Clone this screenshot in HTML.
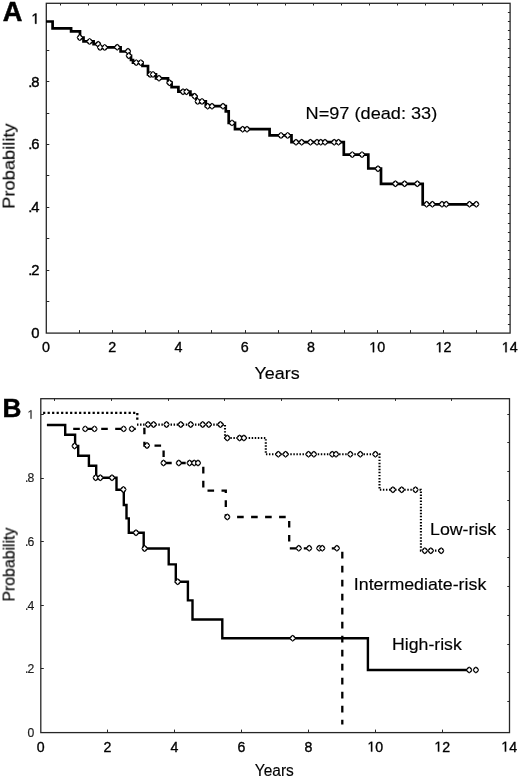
<!DOCTYPE html>
<html><head><meta charset="utf-8"><style>
html,body{margin:0;padding:0;background:#fff;}
body{width:520px;height:781px;overflow:hidden;}
svg{display:block;}
text{font-family:"Liberation Sans", sans-serif;will-change:transform;stroke:#000;stroke-width:0.15px;}
</style></head><body>
<svg width="520" height="781" viewBox="0 0 520 781">
<defs>
<g id="mk"><path d="M0 -3.45 Q2.45 -2.6 3.15 0 Q2.45 2.6 0 3.45 Q-2.45 2.6 -3.15 0 Q-2.45 -2.6 0 -3.45Z" fill="#000"/><path d="M0 -2.55 Q0.7 -0.7 2.35 0 Q0.7 0.7 0 2.55 Q-0.7 0.7 -2.35 0 Q-0.7 -0.7 0 -2.55Z" fill="#fff"/></g>
<g id="mkb"><path d="M0 -3.45 Q2.45 -2.6 3.15 0 Q2.45 2.6 0 3.45 Q-2.45 2.6 -3.15 0 Q-2.45 -2.6 0 -3.45Z" fill="#000"/><path d="M0 -2.55 Q0.7 -0.7 2.35 0 Q0.7 0.7 0 2.55 Q-0.7 0.7 -2.35 0 Q-0.7 -0.7 0 -2.55Z" fill="#fff"/></g>
</defs>
<rect width="520" height="781" fill="#fff"/>
<rect x="46.3" y="3.3" width="463.8" height="329.8" fill="none" stroke="#262626" stroke-width="1.3"/>
<path d="M79.5 333.1v-3 M112.5 333.1v-3 M145.5 333.1v-3 M178.5 333.1v-3 M211.5 333.1v-3 M245.5 333.1v-3 M278.5 333.1v-3 M311.5 333.1v-3 M344.5 333.1v-3 M377.5 333.1v-3 M410.5 333.1v-3 M443.5 333.1v-3 M476.5 333.1v-3 M46.3 301.5h3 M46.3 270.5h3 M46.3 238.5h3 M46.3 207.5h3 M46.3 175.5h3 M46.3 144.5h3 M46.3 113.5h3 M46.3 81.5h3 M46.3 50.5h3 M60.5 3.3v2.2 M88.5 3.3v2.2 M116.5 3.3v2.2 M144.5 3.3v2.2 M172.5 3.3v2.2 M201.5 3.3v2.2 M229.5 3.3v2.2 M257.5 3.3v2.2 M285.5 3.3v2.2 M313.5 3.3v2.2 M341.5 3.3v2.2 M369.5 3.3v2.2 M397.5 3.3v2.2 M425.5 3.3v2.2 M453.5 3.3v2.2 M482.5 3.3v2.2 M510.1 12.5h-2.2 M510.1 21.5h-2.2 M510.1 30.5h-2.2 M510.1 39.5h-2.2 M510.1 48.5h-2.2 M510.1 57.5h-2.2 M510.1 67.5h-2.2 M510.1 76.5h-2.2 M510.1 85.5h-2.2 M510.1 94.5h-2.2 M510.1 103.5h-2.2 M510.1 112.5h-2.2 M510.1 122.5h-2.2 M510.1 131.5h-2.2 M510.1 140.5h-2.2 M510.1 149.5h-2.2 M510.1 158.5h-2.2 M510.1 168.5h-2.2 M510.1 177.5h-2.2 M510.1 186.5h-2.2 M510.1 195.5h-2.2 M510.1 204.5h-2.2 M510.1 213.5h-2.2 M510.1 223.5h-2.2 M510.1 232.5h-2.2 M510.1 241.5h-2.2 M510.1 250.5h-2.2 M510.1 259.5h-2.2 M510.1 269.5h-2.2 M510.1 278.5h-2.2 M510.1 287.5h-2.2 M510.1 296.5h-2.2 M510.1 305.5h-2.2 M510.1 314.5h-2.2 M510.1 324.5h-2.2" stroke="#262626" stroke-width="1" fill="none"/>
<path d="M46 21.5 H52.6 V28.4 H71.1 V31.3 H80 V37.6 H83.5 V41.4 H93.6 V44.2 H99.5 V47.4 H120.6 V51.5 H129 V55.8 H131 V60 H133 V62.6 H142.5 V66 H148 V74.4 H156 V78.3 H168 V82.6 H171.6 V87.1 H178.4 V91.6 H190.4 V94.8 H194 V96.5 H196.5 V101.4 H205.8 V106.2 H225.8 V111.3 H228.7 V122.9 H235 V129.2 H269.6 V135.4 H291.5 V142.2 H343.8 V154.6 H368.3 V168.5 H381 V183.8 H422.7 V204.3 H476" stroke="#000" stroke-width="2.7" fill="none" stroke-linejoin="miter" stroke-linecap="butt"/>
<use href="#mk" x="79.8" y="37.6"/>
<use href="#mk" x="89.6" y="41.4"/>
<use href="#mk" x="98.2" y="44.2"/>
<use href="#mk" x="100.1" y="47.4"/>
<use href="#mk" x="104.7" y="47.4"/>
<use href="#mk" x="117.2" y="47.3"/>
<use href="#mk" x="128" y="51.3"/>
<use href="#mk" x="128.8" y="55.8"/>
<use href="#mk" x="136.2" y="62.6"/>
<use href="#mk" x="140.8" y="62.6"/>
<use href="#mk" x="150.2" y="74.4"/>
<use href="#mk" x="153" y="74.4"/>
<use href="#mk" x="159" y="78.3"/>
<use href="#mk" x="169.5" y="82.7"/>
<use href="#mk" x="183" y="91.7"/>
<use href="#mk" x="186.5" y="91.7"/>
<use href="#mk" x="194.6" y="96.3"/>
<use href="#mk" x="197.7" y="101.4"/>
<use href="#mk" x="202" y="101.4"/>
<use href="#mk" x="207.7" y="106.2"/>
<use href="#mk" x="212" y="106.2"/>
<use href="#mk" x="223" y="106.2"/>
<use href="#mk" x="232" y="122.9"/>
<use href="#mk" x="242.7" y="129.2"/>
<use href="#mk" x="247" y="129.2"/>
<use href="#mk" x="281" y="135.4"/>
<use href="#mk" x="287.7" y="135.4"/>
<use href="#mk" x="296" y="142.2"/>
<use href="#mk" x="301.7" y="142.2"/>
<use href="#mk" x="310.4" y="142.2"/>
<use href="#mk" x="317" y="142.2"/>
<use href="#mk" x="320.8" y="142.2"/>
<use href="#mk" x="325" y="142.2"/>
<use href="#mk" x="334.2" y="142.2"/>
<use href="#mk" x="338.5" y="142.2"/>
<use href="#mk" x="352.3" y="154.6"/>
<use href="#mk" x="362" y="154.6"/>
<use href="#mk" x="378" y="168.8"/>
<use href="#mk" x="395.4" y="183.8"/>
<use href="#mk" x="404.6" y="183.8"/>
<use href="#mk" x="417.3" y="183.8"/>
<use href="#mk" x="426.6" y="204.3"/>
<use href="#mk" x="432.4" y="204.3"/>
<use href="#mk" x="442" y="204.3"/>
<use href="#mk" x="446.2" y="204.3"/>
<use href="#mk" x="469.5" y="204.3"/>
<use href="#mk" x="476.3" y="204.3"/>
<text x="2.8" y="20.8" font-size="27.2" text-anchor="start" font-weight="bold" style="stroke-width:0.5px">A</text>
<g class="m"><path d="M515 0L515 1237L197 1010L197 1180L530 1409L696 1409L696 0Z" transform="translate(31.37 23.7) scale(0.007227 -0.007227)" fill="#000" stroke="#000" stroke-width="0.4" vector-effect="non-scaling-stroke"/></g>
<g class="m"><text x="0" y="0" transform="translate(28.26 86.56) scale(1.0 1)" font-size="14.8" style="stroke-width:0.4px">.</text><text x="0" y="0" transform="translate(31.37 86.56) scale(1.0 1)" font-size="14.8" style="stroke-width:0.4px">8</text></g>
<g class="m"><text x="0" y="0" transform="translate(28.26 149.42) scale(1.0 1)" font-size="14.8" style="stroke-width:0.4px">.</text><text x="0" y="0" transform="translate(31.37 149.42) scale(1.0 1)" font-size="14.8" style="stroke-width:0.4px">6</text></g>
<g class="m"><text x="0" y="0" transform="translate(28.26 212.28) scale(1.0 1)" font-size="14.8" style="stroke-width:0.4px">.</text><text x="0" y="0" transform="translate(31.37 212.28) scale(1.0 1)" font-size="14.8" style="stroke-width:0.4px">4</text></g>
<g class="m"><text x="0" y="0" transform="translate(28.26 275.14) scale(1.0 1)" font-size="14.8" style="stroke-width:0.4px">.</text><text x="0" y="0" transform="translate(31.37 275.14) scale(1.0 1)" font-size="14.8" style="stroke-width:0.4px">2</text></g>
<g class="m"><text x="0" y="0" transform="translate(31.37 338.0) scale(1.0 1)" font-size="14.8" style="stroke-width:0.4px">0</text></g>
<g class="m"><text x="0" y="0" transform="translate(41.92 352.2) scale(1.0 1)" font-size="14.3" style="stroke-width:0.35px">0</text></g>
<g class="m"><text x="0" y="0" transform="translate(108.18 352.2) scale(1.0 1)" font-size="14.3" style="stroke-width:0.35px">2</text></g>
<g class="m"><text x="0" y="0" transform="translate(174.44 352.2) scale(1.0 1)" font-size="14.3" style="stroke-width:0.35px">4</text></g>
<g class="m"><text x="0" y="0" transform="translate(240.70 352.2) scale(1.0 1)" font-size="14.3" style="stroke-width:0.35px">6</text></g>
<g class="m"><text x="0" y="0" transform="translate(306.96 352.2) scale(1.0 1)" font-size="14.3" style="stroke-width:0.35px">8</text></g>
<g class="m"><path d="M515 0L515 1237L197 1010L197 1180L530 1409L696 1409L696 0Z" transform="translate(369.25 352.2) scale(0.006982 -0.006982)" fill="#000" stroke="#000" stroke-width="0.35" vector-effect="non-scaling-stroke"/><text x="0" y="0" transform="translate(377.20 352.2) scale(1.0 1)" font-size="14.3" style="stroke-width:0.35px">0</text></g>
<g class="m"><path d="M515 0L515 1237L197 1010L197 1180L530 1409L696 1409L696 0Z" transform="translate(435.51 352.2) scale(0.006982 -0.006982)" fill="#000" stroke="#000" stroke-width="0.35" vector-effect="non-scaling-stroke"/><text x="0" y="0" transform="translate(443.46 352.2) scale(1.0 1)" font-size="14.3" style="stroke-width:0.35px">2</text></g>
<g class="m"><path d="M515 0L515 1237L197 1010L197 1180L530 1409L696 1409L696 0Z" transform="translate(501.77 352.2) scale(0.006982 -0.006982)" fill="#000" stroke="#000" stroke-width="0.35" vector-effect="non-scaling-stroke"/><text x="0" y="0" transform="translate(509.72 352.2) scale(1.0 1)" font-size="14.3" style="stroke-width:0.35px">4</text></g>
<text x="254.5" y="378.7" font-size="16.3" text-anchor="start" textLength="45.2" lengthAdjust="spacingAndGlyphs">Years</text>
<text x="0" y="0" font-size="16" transform="translate(14.6 208.8) rotate(-90)" textLength="85.5" lengthAdjust="spacingAndGlyphs" style="stroke-width:0.1px" fill="#000">Probability</text>
<text x="305.6" y="119.4" font-size="16.4" text-anchor="start" textLength="131.6" lengthAdjust="spacingAndGlyphs">N=97 (dead: 33)</text>
<rect x="40.8" y="398.7" width="468.7" height="333.90000000000003" fill="none" stroke="#262626" stroke-width="1.3"/>
<path d="M107.5 732.6v-3 M174.5 732.6v-3 M241.5 732.6v-3 M308.5 732.6v-3 M375.5 732.6v-3 M442.5 732.6v-3 M40.8 668.5h3 M40.8 605.5h3 M40.8 541.5h3 M40.8 478.5h3 M40.8 414.5h3 M54.5 398.7v2.2 M111.5 398.7v2.2 M168.5 398.7v2.2 M224.5 398.7v2.2 M281.5 398.7v2.2 M338.5 398.7v2.2 M395.5 398.7v2.2 M451.5 398.7v2.2 M509.5 414.5h-2.2 M509.5 442.5h-2.2 M509.5 471.5h-2.2 M509.5 500.5h-2.2 M509.5 529.5h-2.2 M509.5 557.5h-2.2 M509.5 586.5h-2.2 M509.5 615.5h-2.2 M509.5 644.5h-2.2 M509.5 672.5h-2.2 M509.5 701.5h-2.2" stroke="#262626" stroke-width="1" fill="none"/>
<path d="M43.1 412.8 H137.3 V420" stroke="#000" stroke-width="2.3" stroke-dasharray="2.2 2.3" fill="none"/>
<path d="M137.0 424.6 H225 V438 H265.8 V454.3 H379.5 V489.8 H420.9 V550.6 H441.5" stroke="#000" stroke-width="2.1" stroke-dasharray="1.45 1.6" fill="none"/>
<path d="M73.2 428.9 H144.4 V445.6 H163.6 V463 H203.3 V490.6 H225.8 V517 H289.2 V548.3 H342.3 V724.5" stroke="#000" stroke-width="2.3" stroke-dasharray="6.6 7.4" fill="none"/>
<path d="M46.9 425 H65.2 V434.8 H75.1 V446 H78.2 V455.7 H88.9 V465.8 H96.2 V477.7 H116.5 V489.7 H123.8 V505 H126.5 V518.4 H128.8 V532.8 H143.7 V548.5 H168.7 V564.4 H175.8 V581.7 H187.9 V600.4 H192.5 V619.5 H222.3 V638.3 H367.9 V670 H472" stroke="#000" stroke-width="2.4" fill="none"/>
<use href="#mkb" x="148" y="424.5"/>
<use href="#mkb" x="153.6" y="424.5"/>
<use href="#mkb" x="166.5" y="424.5"/>
<use href="#mkb" x="180.8" y="424.5"/>
<use href="#mkb" x="190.7" y="424.5"/>
<use href="#mkb" x="202.7" y="424.5"/>
<use href="#mkb" x="208.8" y="424.5"/>
<use href="#mkb" x="220.4" y="424.5"/>
<use href="#mkb" x="227.3" y="438"/>
<use href="#mkb" x="239.6" y="438"/>
<use href="#mkb" x="243.9" y="438"/>
<use href="#mkb" x="278.3" y="454.3"/>
<use href="#mkb" x="285.6" y="454.3"/>
<use href="#mkb" x="308.5" y="454.3"/>
<use href="#mkb" x="313.9" y="454.3"/>
<use href="#mkb" x="332.2" y="454.3"/>
<use href="#mkb" x="336" y="454.3"/>
<use href="#mkb" x="350.3" y="454.3"/>
<use href="#mkb" x="360.3" y="454.3"/>
<use href="#mkb" x="375.4" y="454.3"/>
<use href="#mkb" x="392.9" y="489.8"/>
<use href="#mkb" x="401.7" y="489.8"/>
<use href="#mkb" x="415.5" y="489.8"/>
<use href="#mkb" x="424.8" y="550.8"/>
<use href="#mkb" x="430.8" y="550.8"/>
<use href="#mkb" x="441.2" y="550.8"/>
<use href="#mkb" x="85.2" y="428.9"/>
<use href="#mkb" x="94.5" y="428.9"/>
<use href="#mkb" x="123.7" y="428.9"/>
<use href="#mkb" x="131.8" y="428.9"/>
<use href="#mkb" x="147" y="445.5"/>
<use href="#mkb" x="163.5" y="463"/>
<use href="#mkb" x="178.8" y="463"/>
<use href="#mkb" x="189.6" y="463"/>
<use href="#mkb" x="194.2" y="463"/>
<use href="#mkb" x="198" y="463"/>
<use href="#mkb" x="227.3" y="517"/>
<use href="#mkb" x="298.8" y="548.2"/>
<use href="#mkb" x="309.2" y="548.2"/>
<use href="#mkb" x="319.2" y="548.2"/>
<use href="#mkb" x="322.3" y="548.2"/>
<use href="#mkb" x="336.9" y="548.2"/>
<use href="#mkb" x="74.6" y="446"/>
<use href="#mkb" x="95.7" y="477.7"/>
<use href="#mkb" x="100.3" y="477.7"/>
<use href="#mkb" x="112" y="477.7"/>
<use href="#mkb" x="123.4" y="489.5"/>
<use href="#mkb" x="136" y="532.8"/>
<use href="#mkb" x="144.6" y="548.5"/>
<use href="#mkb" x="177.7" y="581.7"/>
<use href="#mkb" x="292.7" y="638.3"/>
<use href="#mkb" x="469.2" y="670"/>
<use href="#mkb" x="475.9" y="670"/>
<text x="2.6" y="417.0" font-size="26.2" text-anchor="start" font-weight="bold" style="stroke-width:0.5px">B</text>
<g class="m"><path d="M515 0L515 1237L197 1010L197 1180L530 1409L696 1409L696 0Z" transform="translate(27.41 418.7) scale(0.005957 -0.005957)" fill="#222" stroke="#222" stroke-width="0.15" vector-effect="non-scaling-stroke"/></g>
<g class="m"><text x="0" y="0" transform="translate(25.03 482.34) scale(1.0 1)" font-size="12.2" style="stroke-width:0.15px" fill="#222">.</text><text x="0" y="0" transform="translate(27.41 482.34) scale(1.0 1)" font-size="12.2" style="stroke-width:0.15px" fill="#222">8</text></g>
<g class="m"><text x="0" y="0" transform="translate(25.03 545.98) scale(1.0 1)" font-size="12.2" style="stroke-width:0.15px" fill="#222">.</text><text x="0" y="0" transform="translate(27.41 545.98) scale(1.0 1)" font-size="12.2" style="stroke-width:0.15px" fill="#222">6</text></g>
<g class="m"><text x="0" y="0" transform="translate(25.03 609.62) scale(1.0 1)" font-size="12.2" style="stroke-width:0.15px" fill="#222">.</text><text x="0" y="0" transform="translate(27.41 609.62) scale(1.0 1)" font-size="12.2" style="stroke-width:0.15px" fill="#222">4</text></g>
<g class="m"><text x="0" y="0" transform="translate(25.03 673.26) scale(1.0 1)" font-size="12.2" style="stroke-width:0.15px" fill="#222">.</text><text x="0" y="0" transform="translate(27.41 673.26) scale(1.0 1)" font-size="12.2" style="stroke-width:0.15px" fill="#222">2</text></g>
<g class="m"><text x="0" y="0" transform="translate(27.41 736.9) scale(1.0 1)" font-size="12.2" style="stroke-width:0.15px" fill="#222">0</text></g>
<g class="m"><text x="0" y="0" transform="translate(36.66 751.6) scale(0.99 1)" font-size="14.3" style="stroke-width:0.35px">0</text></g>
<g class="m"><text x="0" y="0" transform="translate(103.60 751.6) scale(0.99 1)" font-size="14.3" style="stroke-width:0.35px">2</text></g>
<g class="m"><text x="0" y="0" transform="translate(170.54 751.6) scale(0.99 1)" font-size="14.3" style="stroke-width:0.35px">4</text></g>
<g class="m"><text x="0" y="0" transform="translate(237.48 751.6) scale(0.99 1)" font-size="14.3" style="stroke-width:0.35px">6</text></g>
<g class="m"><text x="0" y="0" transform="translate(304.42 751.6) scale(0.99 1)" font-size="14.3" style="stroke-width:0.35px">8</text></g>
<g class="m"><path d="M515 0L515 1237L197 1010L197 1180L530 1409L696 1409L696 0Z" transform="translate(367.43 751.6) scale(0.006913 -0.006982)" fill="#000" stroke="#000" stroke-width="0.35" vector-effect="non-scaling-stroke"/><text x="0" y="0" transform="translate(375.30 751.6) scale(0.99 1)" font-size="14.3" style="stroke-width:0.35px">0</text></g>
<g class="m"><path d="M515 0L515 1237L197 1010L197 1180L530 1409L696 1409L696 0Z" transform="translate(434.37 751.6) scale(0.006913 -0.006982)" fill="#000" stroke="#000" stroke-width="0.35" vector-effect="non-scaling-stroke"/><text x="0" y="0" transform="translate(442.24 751.6) scale(0.99 1)" font-size="14.3" style="stroke-width:0.35px">2</text></g>
<g class="m"><path d="M515 0L515 1237L197 1010L197 1180L530 1409L696 1409L696 0Z" transform="translate(501.31 751.6) scale(0.006913 -0.006982)" fill="#000" stroke="#000" stroke-width="0.35" vector-effect="non-scaling-stroke"/><text x="0" y="0" transform="translate(509.18 751.6) scale(0.99 1)" font-size="14.3" style="stroke-width:0.35px">4</text></g>
<text x="254.8" y="776.0" font-size="16" text-anchor="start" textLength="39" lengthAdjust="spacingAndGlyphs">Years</text>
<text x="0" y="0" font-size="16" transform="translate(14.6 601.5) rotate(-90)" textLength="73.8" lengthAdjust="spacingAndGlyphs">Probability</text>
<text x="430.0" y="534.7" font-size="16.6" text-anchor="start" textLength="66.2" lengthAdjust="spacingAndGlyphs">Low-risk</text>
<text x="353.8" y="590.2" font-size="16.4" text-anchor="start" textLength="132.5" lengthAdjust="spacingAndGlyphs">Intermediate-risk</text>
<text x="392.0" y="649.6" font-size="16.0" text-anchor="start" textLength="69.8" lengthAdjust="spacingAndGlyphs">High-risk</text>
</svg>
</body></html>
